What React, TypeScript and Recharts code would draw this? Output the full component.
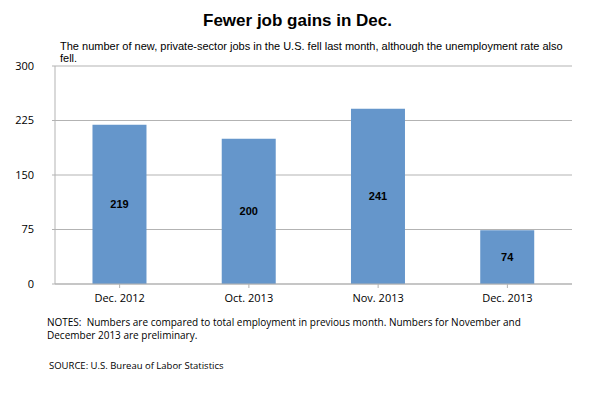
import React from 'react';
import { BarChart, Bar, XAxis, YAxis, CartesianGrid, LabelList } from 'recharts';

const months = ['Dec. 2012', 'Oct. 2013', 'Nov. 2013', 'Dec. 2013'];
const jobGains = [219, 200, 241, 74];
const yTicks = [0, 75, 150, 225, 300];

const chartData = months.map((month, i) => ({ month, jobs: jobGains[i] }));

const tickFont = { fontFamily: '"Open Sans", "DejaVu Sans", sans-serif', fontSize: 11, fill: '#000' };

const App: React.FC = () => {
  return (
    <div style={{ position: 'relative', width: 595, height: 394, margin: -8, background: '#fff', fontFamily: 'Arial, "Liberation Sans", sans-serif' }}>
      <div style={{ position: 'absolute', left: 0, width: 595, top: 11, textAlign: 'center', fontWeight: 'bold', fontSize: 17, color: '#000' }}>
        Fewer job gains in Dec.
      </div>
      <div style={{ position: 'absolute', left: 60, width: 520, top: 40, fontSize: 11, lineHeight: '12px', color: '#000' }}>
        The number of new, private-sector jobs in the U.S. fell last month, although the unemployment rate also fell.
      </div>
      <BarChart
        width={595}
        height={394}
        data={chartData}
        margin={{ top: 66, right: 23, bottom: 80, left: 8 }}
        barCategoryGap="29%"
      >
        <CartesianGrid vertical={false} stroke="#b3b3b3" />
        <XAxis
          dataKey="month"
          stroke="#b3b3b3"
          tickLine={{ stroke: '#b3b3b3' }}
          tickSize={4}
          tickMargin={6}
          tick={tickFont}
          interval={0}
        />
        <YAxis
          domain={[0, 300]}
          ticks={yTicks}
          width={47}
          stroke="#b3b3b3"
          tickSize={3}
          tickMargin={18}
          tick={tickFont}
        />
        <Bar dataKey="jobs" fill="#6596cb" isAnimationActive={false}>
          <LabelList dataKey="jobs" position="center" style={{ fontFamily: 'Arial, "Liberation Sans", sans-serif', fontSize: 11, fontWeight: 'bold', fill: '#000' }} />
        </Bar>
      </BarChart>
      <div style={{ position: 'absolute', left: 47, top: 316, fontSize: 10, lineHeight: '13px', color: '#000', whiteSpace: 'nowrap', fontFamily: '"Open Sans", "DejaVu Sans", sans-serif' }}>
        <div>NOTES:&nbsp; Numbers are compared to total employment in previous month. Numbers for November and</div>
        <div>December 2013 are preliminary.</div>
      </div>
      <div style={{ position: 'absolute', left: 49, top: 359, fontSize: 9.5, color: '#000', fontFamily: '"Open Sans", "DejaVu Sans", sans-serif' }}>
        SOURCE: U.S. Bureau of Labor Statistics
      </div>
    </div>
  );
};

export default App;
